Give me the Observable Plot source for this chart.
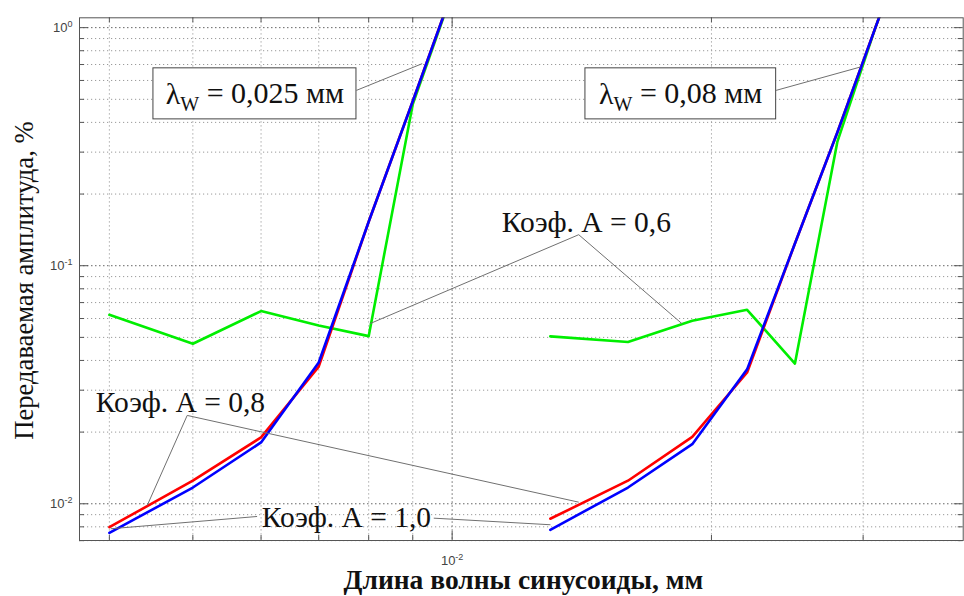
<!DOCTYPE html>
<html><head><meta charset="utf-8">
<script src="https://cdn.jsdelivr.net/npm/d3@7"></script>
<script src="https://cdn.jsdelivr.net/npm/@observablehq/plot@0.6"></script>
<style>body{margin:0;background:#fff}</style>
</head><body><div id="chart"></div>
<script>
// ---- data (wavelength, mm ; transmitted amplitude, %) ----
const lambdaLeft  = [0.004, 0.005, 0.006, 0.007, 0.008, 0.009, 0.010];
const lambdaRight = [0.013, 0.016, 0.019, 0.022, 0.025, 0.028, 0.031, 0.034];
const coefA06Left  = [0.0622, 0.047, 0.0645, 0.0561, 0.0506, 0.476, 1.40];
const coefA08Left  = [0.00797, 0.0125, 0.0190, 0.0377, 0.153, 0.491, 1.413];
const coefA10Left  = [0.00754, 0.0117, 0.0181, 0.0392, 0.153, 0.491, 1.413];
const coefA06Right = [0.0505, 0.0478, 0.0587, 0.0653, 0.0388, 0.331, 1.0, 2.5];
const coefA08Right = [0.00865, 0.0125, 0.0191, 0.0356, 0.124, 0.363, 1.0, 2.5];
const coefA10Right = [0.00777, 0.0117, 0.0178, 0.0367, 0.124, 0.363, 1.0, 2.5];

// ticks
const xMajorTicks = [0.01];
const xMinorTicks = [0.004, 0.005, 0.006, 0.007, 0.008, 0.009, 0.02, 0.03];
const yMajorTicks = [0.01, 0.1, 1];
const yMinorTicks = [0.007, 0.008, 0.009, 0.02, 0.03, 0.04, 0.05, 0.06, 0.07, 0.08, 0.09,
                     0.2, 0.3, 0.4, 0.5, 0.6, 0.7, 0.8, 0.9];
const tickLabels = {0.01: "10⁻²", 0.1: "10⁻¹", 1: "10⁰"};

// annotations (data coordinates)
const boxLabels = ["λW = 0,025 мм", "λW = 0,08 мм"];
const boxCenterX = [0.005902, 0.018420];
const boxCenterY = [0.5269, 0.5269];
const boxX1 = [0.004500, 0.014280];
const boxX2 = [0.007743, 0.023776];
const boxY1 = [0.4118, 0.4118];
const boxY2 = [0.6747, 0.6747];
const boxLeaderFromY = [0.5452, 0.5452];
const boxLeaderToX = [0.009230, 0.029779];
const boxLeaderToY = [0.7058, 0.6833];

const coefLabels = ["Коэф. А = 0,6", "Коэф. А = 0,8", "Коэф. А = 1,0"];
const coefLabelX = [0.014314, 0.004837, 0.007539];
const coefLabelY = [0.1380, 0.02426, 0.007973];
const leaderX1 = [0.014026, 0.014026, 0.004925, 0.004925, 0.005937, 0.009520];
const leaderY1 = [0.13499, 0.13499, 0.02350, 0.02350, 0.008843, 0.008700];
const leaderX2 = [0.008023, 0.018487, 0.004426, 0.014026, 0.004014, 0.013005];
const leaderY2 = [0.05706, 0.05706, 0.009838, 0.010156, 0.007852, 0.008163];

const xTitle = "Длина волны синусоиды, мм";
const yTitle = "Передаваемая амплитуда, %";

// ---- build ----
const rows = (xs, ys, s) => xs.map((x, i) => ({x, y: ys[i], s}));
const green = [...rows(lambdaLeft, coefA06Left, "L"), ...rows(lambdaRight, coefA06Right, "R")];
const red   = [...rows(lambdaLeft, coefA08Left, "L"), ...rows(lambdaRight, coefA08Right, "R")];
const blue  = [...rows(lambdaLeft, coefA10Left, "L"), ...rows(lambdaRight, coefA10Right, "R")];
const boxes = boxLabels.map((t, i) => ({t, cx: boxCenterX[i], cy: boxCenterY[i], x1: boxX1[i], x2: boxX2[i], y1: boxY1[i], y2: boxY2[i], ly: boxLeaderFromY[i], tx: boxLeaderToX[i], ty: boxLeaderToY[i]}));
const coefs = coefLabels.map((t, i) => ({t, x: coefLabelX[i], y: coefLabelY[i]}));
const leaders = leaderX1.map((x1, i) => ({x1, y1: leaderY1[i], x2: leaderX2[i], y2: leaderY2[i]}));

const W = 964, H = 596, mL = 79, mR = 1.3, mT = 17.3, mB = 56;
const pW = W - mL - mR, pH = H - mT - mB;
const serif = "'Liberation Serif', 'Times New Roman', serif";

const svg = Plot.plot({
  width: W, height: H,
  marginLeft: mL, marginRight: mR, marginTop: mT, marginBottom: mB,
  style: {fontFamily: "'Liberation Sans', Arial, sans-serif", fontSize: "13px", color: "#444", background: "white", overflow: "visible"},
  x: {type: "log", domain: [0.003693, 0.0392], ticks: xMajorTicks, tickFormat: d => tickLabels[d], tickSize: 0, tickPadding: 15, label: null},
  y: {type: "log", domain: [0.00701, 1.10], ticks: yMajorTicks, tickFormat: d => tickLabels[d], tickSize: 0, tickPadding: 7, label: null},
  marks: [
    // grid
    Plot.ruleX(xMinorTicks, {stroke: "#9a9a9a", strokeDasharray: "1.2,2.8", strokeWidth: 1}),
    Plot.ruleY(yMinorTicks, {stroke: "#9a9a9a", strokeDasharray: "1.2,2.8", strokeWidth: 1}),
    Plot.ruleX(xMajorTicks, {stroke: "#666", strokeDasharray: "1.5,2.5", strokeWidth: 1}),
    Plot.ruleY(yMajorTicks, {stroke: "#666", strokeDasharray: "1.5,2.5", strokeWidth: 1}),
    // inward ticks
    Plot.tickX(xMinorTicks, {x: d => d, insetTop: pH - 5, stroke: "#555"}),
    Plot.tickX(xMinorTicks, {x: d => d, insetBottom: pH - 5, stroke: "#555"}),
    Plot.tickX(xMajorTicks, {x: d => d, insetTop: pH - 9, stroke: "#555"}),
    Plot.tickX(xMajorTicks, {x: d => d, insetBottom: pH - 9, stroke: "#555"}),
    Plot.tickY(yMinorTicks, {y: d => d, insetRight: pW - 5, stroke: "#555"}),
    Plot.tickY(yMinorTicks, {y: d => d, insetLeft: pW - 5, stroke: "#555"}),
    Plot.tickY(yMajorTicks, {y: d => d, insetRight: pW - 9, stroke: "#555"}),
    Plot.tickY(yMajorTicks, {y: d => d, insetLeft: pW - 9, stroke: "#555"}),
    // series
    Plot.line(green, {x: "x", y: "y", z: "s", stroke: "#00ee00", strokeWidth: 2.6, clip: true}),
    Plot.line(red, {x: "x", y: "y", z: "s", stroke: "#ff0000", strokeWidth: 2.6, clip: true}),
    Plot.line(blue, {x: "x", y: "y", z: "s", stroke: "#0000ff", strokeWidth: 2.6, clip: true}),
    // leaders
    Plot.link(leaders, {x1: "x1", y1: "y1", x2: "x2", y2: "y2", stroke: "#707070", strokeWidth: 1}),
    Plot.link(boxes, {x1: "x2", y1: "ly", x2: "tx", y2: "ty", stroke: "#707070", strokeWidth: 1}),
    // boxes and texts
    Plot.rect(boxes, {x1: "x1", x2: "x2", y1: "y1", y2: "y2", fill: "white", stroke: "#444", strokeWidth: 1}),
    Plot.text(boxes, {x: "cx", y: "cy", text: "t", fontFamily: serif, fontSize: 30, fill: "#111"}),
    Plot.text(coefs, {x: "x", y: "y", text: "t", lineAnchor: "bottom", fontFamily: serif, fontSize: 29.5, fill: "#111"}),
    // axis titles
    Plot.text([xTitle], {frameAnchor: "bottom", lineAnchor: "bottom", textAnchor: "middle", dy: 48, dx: 2, text: d => d, fontFamily: serif, fontSize: 27.5, fontWeight: "bold", fill: "#111"}),
    Plot.text([yTitle], {frameAnchor: "left", textAnchor: "middle", rotate: -90, dx: -54.6, dy: 1.4, text: d => d, fontFamily: serif, fontSize: 26.6, fill: "#111"}),
    Plot.frame({stroke: "#555"})
  ]
});

// post-process: superscripts on tick labels, subscript W
d3.select(svg).selectAll("text").each(function() {
  const t = this.textContent;
  const el = d3.select(this);
  const m = t.match(/^10([⁰⁻¹²]+)$/);
  if (m) {
    const map = {"⁰": "0", "⁻": "-", "¹": "1", "²": "2"};
    const exp = [...m[1]].map(c => map[c]).join("");
    el.text(null).attr("font-size", "13px").style("font-size", "13px");
    el.append("tspan").text("10");
    el.append("tspan").style("font-size", "9px").attr("dy", "-0.55em").text(exp);
  } else if (t.startsWith("λW")) {
    const rest = t.slice(2);
    el.text(null);
    el.append("tspan").text("λ");
    el.append("tspan").style("font-size", "20px").attr("dy", "0.35em").text("W");
    el.append("tspan").attr("dy", "-0.25em").text(rest);
  }
});

document.getElementById("chart").appendChild(svg);
</script>
</body></html>
